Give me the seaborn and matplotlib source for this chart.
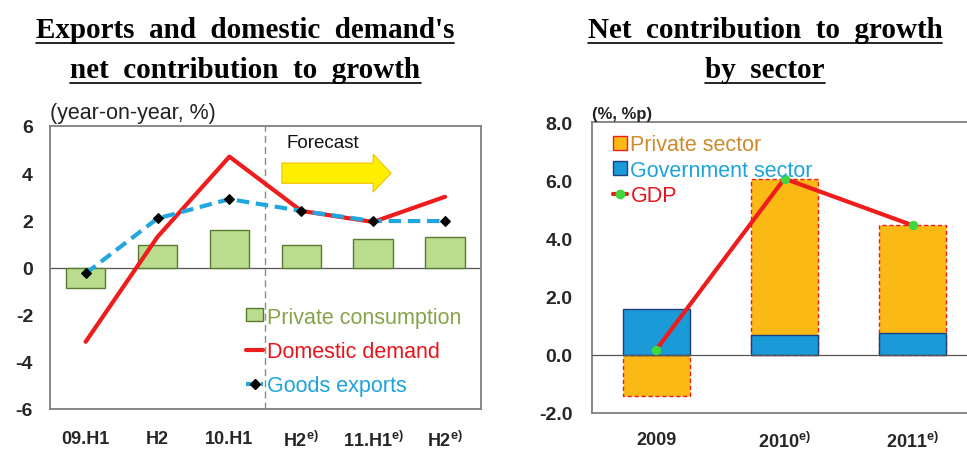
import numpy as np
import pandas as pd
import matplotlib
matplotlib.use("Agg")
import matplotlib.pyplot as plt
import seaborn as sns
from matplotlib.patches import Patch
from matplotlib.lines import Line2D

# ---------------- data ----------------
periods = ["09.H1", "09.H2", "10.H1", "10.H2", "11.H1", "11.H2"]
period_labels = ["09.H1", "H2", "10.H1", r"H2$^{e)}$", r"11.H1$^{e)}$", r"H2$^{e)}$"]
private_consumption = [-0.88, 0.97, 1.58, 0.97, 1.22, 1.31]
domestic_demand = [-3.15, 1.30, 4.70, 2.40, 1.93, 3.00]
goods_exports = [-0.25, 2.08, 2.90, 2.40, 1.97, 1.97]

years = ["2009", "2010", "2011"]
year_labels = ["2009", r"2010$^{e)}$", r"2011$^{e)}$"]
government_sector = [1.57, 0.68, 0.74]
private_sector = [-1.44, 5.37, 3.73]
gdp = [0.17, 6.06, 4.45]

# ---------------- style ----------------
sns.set_style("white")
plt.rcParams["font.family"] = ["Liberation Sans", "DejaVu Sans"]
plt.rcParams["mathtext.fontset"] = "custom"
plt.rcParams["mathtext.bf"] = "Liberation Sans:bold"
plt.rcParams["mathtext.rm"] = "Liberation Sans"
plt.rcParams["mathtext.default"] = "bf"

W, H = 967, 452
fig = plt.figure(figsize=(W / 100, H / 100), dpi=100)
fig.patch.set_facecolor("white")

def fx(px):
    return px / W

def fy(py):
    return 1 - py / H

ax1 = fig.add_axes([fx(49.7), fy(410), fx(481) - fx(49.7), fy(127) - fy(410)])
ax2 = fig.add_axes([fx(592), fy(413.7), fx(977) - fx(592), fy(123.3) - fy(413.7)])

spine_col = "#7f7f7f"
for ax in (ax1, ax2):
    for s in ax.spines.values():
        s.set_color(spine_col)
        s.set_linewidth(1.3)
    ax.set_facecolor("white")

# ---------------- left panel ----------------
GREEN_FACE = "#b9dc8e"
GREEN_EDGE = "#5a7a30"
RED = "#ee1c1c"
CYAN = "#21a7df"

df1 = pd.DataFrame({"period": periods, "pc": private_consumption,
                    "dd": domestic_demand, "ge": goods_exports})
df1["pos"] = np.arange(len(df1))

sns.barplot(data=df1, x="period", y="pc", order=periods, ax=ax1, color=GREEN_FACE,
            edgecolor=GREEN_EDGE, linewidth=1.0, width=0.55, saturation=1, zorder=2)
ax1.axhline(0, color="#555555", lw=0.9, zorder=1.5)
sns.lineplot(data=df1, x="pos", y="dd", ax=ax1, color=RED, lw=3.0, zorder=3,
             estimator=None, sort=False)
sns.lineplot(data=df1, x="pos", y="ge", ax=ax1, color=CYAN, lw=3.0, zorder=4,
             estimator=None, sort=False, marker="D", markersize=5,
             markerfacecolor="black", markeredgecolor="black")
ax1.lines[-1].set_dashes([3.0, 1.6])

ax1.axvline(2.5, color="#8a8a8a", lw=1.0, ls=(0, (5, 3)), zorder=1)

ax1.set_xlim(-0.5, len(periods) - 0.5)
ax1.set_ylim(-6, 6)
ax1.set_yticks([-6, -4, -2, 0, 2, 4, 6])
ax1.set_yticklabels(["-6", "-4", "-2", "0", "2", "4", "6"])
ax1.set_xticks(np.arange(len(periods)))
ax1.set_xticklabels(period_labels)
ax1.tick_params(axis="y", length=0, pad=12, labelsize=14)
ax1.tick_params(axis="x", length=0, pad=15, labelsize=13)
for lab in ax1.get_xticklabels() + ax1.get_yticklabels():
    lab.set_fontweight("bold")
ax1.set_xlabel("")
ax1.set_ylabel("")

ax1.text(-0.5, 6.12, "(year-on-year, %)", fontsize=15.5, ha="left", va="bottom",
         color="#222222")
ax1.text(2.8, 5.3, "Forecast", fontsize=13.5, ha="left", va="center", color="#111111")
ax1.arrow(2.73, 4.0, 1.27, 0, width=0.86, head_width=1.6, head_length=0.25,
          length_includes_head=False, facecolor="#ffee00", edgecolor="#f2c200",
          lw=0.8, zorder=5)

h1 = [Patch(facecolor=GREEN_FACE, edgecolor=GREEN_EDGE, lw=1.0),
      Line2D([], [], color=RED, lw=3),
      Line2D([], [], color=CYAN, lw=3, ls=(0, (1.2, 0.6)), marker="D", markersize=5,
             markerfacecolor="black", markeredgecolor="black")]
leg1 = ax1.legend(h1, ["Private consumption", "Domestic demand", "Goods exports"],
                  loc="upper left", bbox_to_anchor=(0.455, 0.362), frameon=False,
                  fontsize=15.5, handlelength=0.8, handleheight=0.55, handletextpad=0.2,
                  labelspacing=0.62, borderpad=0, borderaxespad=0,
                  labelcolor=["#86a34a", "#e8141c", "#1ea3d8"])

# ---------------- right panel ----------------
ORANGE = "#fbb915"
BLUE = "#1a9bd7"
BLUE_EDGE = "#1d3f7a"

df2 = pd.DataFrame({"year": years, "gov": government_sector,
                    "priv": private_sector, "gdp": gdp})
df2["pos"] = np.arange(len(df2))
# extent of the private-sector segment (stacked on gov when positive)
df2["priv_top"] = np.where(df2["priv"] > 0, df2["priv"] + df2["gov"], df2["priv"])

sns.barplot(data=df2, x="year", y="priv_top", order=years, ax=ax2, color=ORANGE,
            edgecolor=RED, linewidth=1.0, linestyle=(0, (3, 2)), width=0.52,
            saturation=1, zorder=2)
sns.barplot(data=df2, x="year", y="gov", order=years, ax=ax2, color=BLUE,
            edgecolor=BLUE_EDGE, linewidth=1.0, width=0.52, saturation=1, zorder=2.5)
ax2.axhline(0, color="#555555", lw=0.9, zorder=3)
sns.lineplot(data=df2, x="pos", y="gdp", ax=ax2, color=RED, lw=3.0, zorder=4,
             estimator=None, sort=False, marker="o", markersize=6,
             markerfacecolor="#3ed83e", markeredgecolor="#3ed83e")

ax2.set_xlim(-0.5, len(years) - 0.5)
ax2.set_ylim(-2, 8)
ax2.set_yticks([-2, 0, 2, 4, 6, 8])
ax2.set_yticklabels(["-2.0", "0.0", "2.0", "4.0", "6.0", "8.0"])
ax2.set_xticks(np.arange(len(years)))
ax2.set_xticklabels(year_labels)
ax2.tick_params(axis="y", length=0, pad=14, labelsize=14)
ax2.tick_params(axis="x", length=0, pad=13, labelsize=13)
for lab in ax2.get_xticklabels() + ax2.get_yticklabels():
    lab.set_fontweight("bold")
ax2.set_xlabel("")
ax2.set_ylabel("")
ax2.text(-0.5, 8.06, "(%, %p)", fontsize=12, fontweight="bold", ha="left",
         va="bottom", color="#222222")

h2 = [Patch(facecolor=ORANGE, edgecolor=RED, lw=1.0),
      Patch(facecolor=BLUE, edgecolor=BLUE_EDGE, lw=1.0),
      Line2D([], [], color=RED, lw=3, marker="o", markersize=6,
             markerfacecolor="#3ed83e", markeredgecolor="#3ed83e")]
leg2 = ax2.legend(h2, ["Private sector", "Government sector", "GDP"],
                  loc="upper left", bbox_to_anchor=(0.055, 0.958), frameon=False,
                  fontsize=15.5, handlelength=0.65, handleheight=0.65, handletextpad=0.15,
                  labelspacing=0.2, borderpad=0, borderaxespad=0,
                  labelcolor=["#cf8a2e", "#1ea3d8", "#e8141c"])

# ---------------- titles ----------------
title_kw = dict(fontsize=21, fontweight="bold", family=["Liberation Serif", "DejaVu Serif"],
                ha="center", va="baseline", color="black")
titles = [
    fig.text(fx(245), fy(38), "Exports  and  domestic  demand's", **title_kw),
    fig.text(fx(245.5), fy(78), "net  contribution  to  growth", **title_kw),
    fig.text(fx(765), fy(38), "Net  contribution  to  growth", **title_kw),
    fig.text(fx(765), fy(78), "by  sector", **title_kw),
]
fig.canvas.draw()
renderer = fig.canvas.get_renderer()
for t, uy in zip(titles, [44, 84, 44, 84]):
    bb = t.get_window_extent(renderer)
    fig.add_artist(Line2D([bb.x0 / W, bb.x1 / W], [fy(uy), fy(uy)],
                          transform=fig.transFigure, color="black", lw=1.2))

fig.savefig("out.png", dpi=100)
